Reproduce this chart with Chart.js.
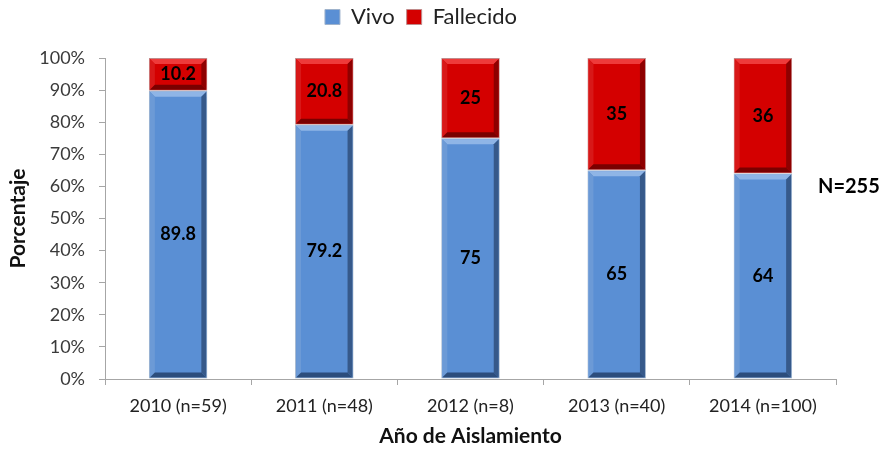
<!DOCTYPE html>
<html>
<head>
<meta charset="utf-8">
<script src="https://cdn.jsdelivr.net/npm/chart.js@4"></script>
<style>
  html, body { margin: 0; padding: 0; background: #fff; }
  #wrap { width: 884px; height: 449px; }
</style>
</head>
<body>
<div id="wrap"><canvas id="myChart" width="884" height="449"></canvas></div>
<script>
const categories = ['2010 (n=59)', '2011 (n=48)', '2012 (n=8)', '2013 (n=40)', '2014 (n=100)'];
const vivo = [89.8, 79.2, 75, 65, 64];
const fallecido = [10.2, 20.8, 25, 35, 36];
const yTicks = [0, 10, 20, 30, 40, 50, 60, 70, 80, 90, 100];

const FONT = 'Lato, "Open Sans", sans-serif';

// shade colours for the bevel edges, per dataset
const bevel = [
    { top: '#8fb5e6', bottom: '#2c4d7c', right: '#36598a', left: '#6c9ad6' },
    { top: '#ee3a3a', bottom: '#7a0000', right: '#8e0000', left: '#d81818' }
];

const bevelPlugin = {
    id: 'bevel',
    afterDatasetsDraw(chart) {
        const ctx = chart.ctx;
        chart.data.datasets.forEach((ds, di) => {
            const meta = chart.getDatasetMeta(di);
            const c = bevel[di];
            meta.data.forEach((bar) => {
                const l = bar.x - bar.width / 2, r = bar.x + bar.width / 2;
                const t = Math.min(bar.y, bar.base), b = Math.max(bar.y, bar.base);
                const s = 5;
                ctx.save();
                const poly = (pts, col) => {
                    ctx.fillStyle = col;
                    ctx.beginPath();
                    ctx.moveTo(pts[0][0], pts[0][1]);
                    for (let i = 1; i < pts.length; i++) ctx.lineTo(pts[i][0], pts[i][1]);
                    ctx.closePath();
                    ctx.fill();
                };
                poly([[l + 1, t + 1], [r - 1, t + 1], [r - 1 - s, t + 1 + s], [l + 1 + s, t + 1 + s]], c.top);
                poly([[l + 1, t + 1], [l + 1 + s, t + 1 + s], [l + 1 + s, b - 1 - s], [l + 1, b - 1]], c.left);
                poly([[r - 1, t + 1], [r - 1, b - 1], [r - 1 - s, b - 1 - s], [r - 1 - s, t + 1 + s]], c.right);
                poly([[l + 1, b - 1], [r - 1, b - 1], [r - 1 - s, b - 1 - s], [l + 1 + s, b - 1 - s]], c.bottom);
                ctx.restore();
            });
        });
    }
};

const labelPlugin = {
    id: 'segLabels',
    afterDatasetsDraw(chart) {
        const ctx = chart.ctx;
        ctx.save();
        ctx.font = 'bold 18px ' + FONT;
        ctx.fillStyle = '#000';
        ctx.textAlign = 'center';
        ctx.textBaseline = 'middle';
        chart.data.datasets.forEach((ds, di) => {
            chart.getDatasetMeta(di).data.forEach((bar, i) => {
                ctx.fillText(String(ds.data[i]), bar.x, (bar.y + bar.base) / 2);
            });
        });
        // total count note
        ctx.font = 'bold 20px ' + FONT;
        ctx.textAlign = 'left';
        ctx.fillText('N=255', 818, 187);
        ctx.restore();
    }
};

// extra room under the legend
const legendGap = {
    id: 'legendGap',
    beforeInit(chart) {
        const fit = chart.legend.fit;
        chart.legend.fit = function () {
            fit.bind(chart.legend)();
            this.height += 20;
        };
    }
};

const ctx = document.getElementById('myChart').getContext('2d');
new Chart(ctx, {
    type: 'bar',
    data: {
        labels: categories,
        datasets: [
            {
                label: 'Vivo',
                data: vivo,
                backgroundColor: '#5a8fd4',
                borderColor: '#9fb3cc',
                borderWidth: 1,
                borderSkipped: false,
                barPercentage: 0.4,
                categoryPercentage: 1
            },
            {
                label: 'Fallecido',
                data: fallecido,
                backgroundColor: '#d40000',
                borderColor: '#c08a8a',
                borderWidth: 1,
                borderSkipped: false,
                barPercentage: 0.4,
                categoryPercentage: 1
            }
        ]
    },
    options: {
        responsive: false,
        animation: false,
        layout: { padding: { left: 6, right: 48, top: -6, bottom: 0 } },
        plugins: {
            legend: {
                position: 'top',
                labels: {
                    font: { family: FONT, size: 22 },
                    color: '#222',
                    boxWidth: 15,
                    boxHeight: 15,
                    padding: 12
                }
            },
            tooltip: { enabled: false }
        },
        scales: {
            x: {
                stacked: true,
                grid: { drawOnChartArea: false, tickLength: 6, color: '#a6a6a6' },
                border: { color: '#a6a6a6' },
                ticks: { font: { family: FONT, size: 18 }, color: '#222', padding: 10 },
                title: {
                    display: true,
                    text: 'Año de Aislamiento',
                    font: { family: FONT, size: 21, weight: 'bold' },
                    color: '#111',
                    padding: { top: 4, bottom: 0 }
                },
                afterFit(scale) { scale.height = 70; }
            },
            y: {
                stacked: true,
                min: 0,
                max: 100,
                afterBuildTicks(scale) { scale.ticks = yTicks.map(v => ({ value: v })); },
                grid: { drawOnChartArea: false, tickLength: 6, color: '#a6a6a6' },
                border: { color: '#a6a6a6' },
                ticks: {
                    font: { family: FONT, size: 18 },
                    color: '#3a3a3a',
                    padding: 14,
                    callback: v => v + '%'
                },
                title: {
                    display: true,
                    text: 'Porcentaje',
                    font: { family: FONT, size: 21, weight: 'bold' },
                    color: '#111',
                    padding: { top: 0, bottom: 6 }
                },
                afterFit(scale) { scale.width = 99; }
            }
        }
    },
    plugins: [legendGap, bevelPlugin, labelPlugin]
});
</script>
</body>
</html>
